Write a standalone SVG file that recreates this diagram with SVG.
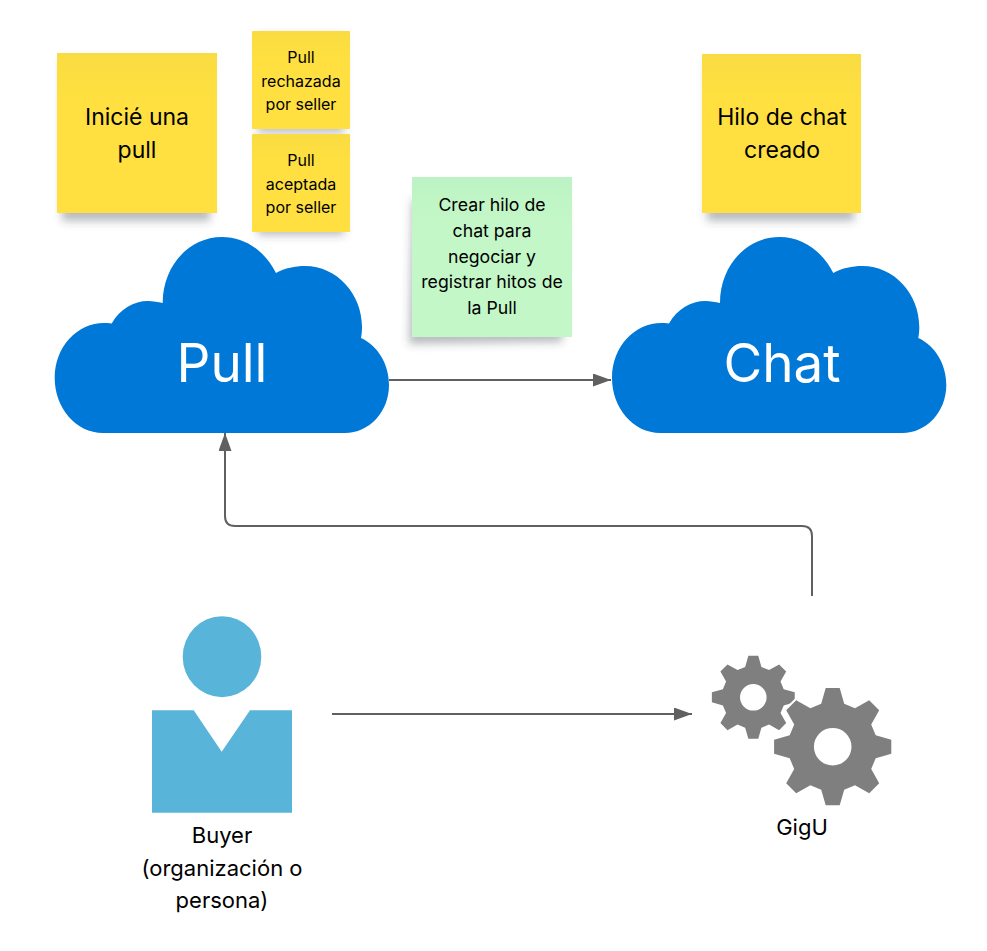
<svg xmlns="http://www.w3.org/2000/svg" width="987" height="951" viewBox="0 0 987 951">
<style>
text{font-family:Inter,"Noto Sans","Liberation Sans",sans-serif;text-anchor:middle;fill:#000}
.c{fill:#0078d7}
.ct{font-size:53px;fill:#fff}
.y{fill:url(#gy)}
.g{fill:url(#gg)}
.s{fill:#3a4250;fill-opacity:.36;filter:url(#b)}
.t1{font-size:23px}
.t2{font-size:16px}
.t3{font-size:17.7px}
.t4{font-size:22px}
.p{fill:#59b4d9}
.cn{fill:none;stroke:#606060;stroke-width:2}
</style>
<defs>
<linearGradient id="gy" x1="0" y1="0" x2="0" y2="1"><stop offset="0" stop-color="#f9dc42"/><stop offset=".3" stop-color="#ffe040"/></linearGradient>
<linearGradient id="gg" x1="0" y1="0" x2="0" y2="1"><stop offset="0" stop-color="#bdf3c4"/><stop offset=".3" stop-color="#c3f7c8"/></linearGradient>
<filter id="b" x="-20%" y="-20%" width="140%" height="140%"><feGaussianBlur stdDeviation="4"/></filter>
<marker id="a" markerUnits="userSpaceOnUse" markerWidth="19" markerHeight="14" refX="18" refY="6.5" orient="auto"><path d="M0 0L18 6.5L0 13Z" fill="#606060"/></marker>
<path id="cloud" d="M103 433C76 433 54.7 408 54.7 378C54.7 346 78 323 104 323C106 323 109 323 111.7 323.5C120 309 134 301 148 301C153 301 158 302 162.7 303C162.7 266 189 237 222 237C245 237 265 251 276 273C285 268 295 266 305 266C337 266 362 294 362 327C362 331 361.7 334 361 338C378 346 389 364 389 385C389 412 369 433 345 433Z"/>
<path id="gear" fill-rule="evenodd" d="M-7 -58.6L7 -58.6L11.5 -43L22.3 -38.5L36.5 -46.5L46.5 -36.5L38.5 -22.3L43 -11.5L58.6 -7L58.6 7L43 11.5L38.5 22.3L46.5 36.5L36.5 46.5L22.3 38.5L11.5 43L7 58.6L-7 58.6L-11.5 43L-22.3 38.5L-36.5 46.5L-46.5 36.5L-38.5 22.3L-43 11.5L-58.6 7L-58.6 -7L-43 -11.5L-38.5 -22.3L-46.5 -36.5L-36.5 -46.5L-22.3 -38.5L-11.5 -43ZM18.8 0A18.8 18.8 0 1 0 -18.8 0A18.8 18.8 0 1 0 18.8 0Z"/>
</defs>
<rect width="987" height="951" fill="#fff"/>
<g id="connectors">
<path class="cn" marker-end="url(#a)" d="M389 380H611"/>
<path class="cn" marker-end="url(#a)" d="M812 596V536Q812 526 802 526H235Q225 526 225 516V433"/>
<path class="cn" marker-end="url(#a)" d="M332 714H692"/>
</g>
<g id="note-inicie">
<rect class="s" x="62" y="60" width="148" height="161"/>
<rect class="y" x="57" y="53" width="160" height="160"/>
<text class="t1" x="137" y="125">Inicié una</text><text class="t1" x="137" y="158">pull</text>
</g>
<g id="note-rechazada">
<rect class="s" x="258" y="36" width="86" height="96"/>
<rect class="y" x="252" y="31" width="98" height="98" rx="1"/>
<text class="t2" x="301" y="62.7">Pull</text><text class="t2" x="301" y="86.5">rechazada</text><text class="t2" x="301" y="110">por seller</text>
</g>
<g id="note-aceptada">
<rect class="s" x="258" y="139" width="86" height="96"/>
<rect class="y" x="252" y="134" width="98" height="98" rx="1"/>
<text class="t2" x="301" y="165.7">Pull</text><text class="t2" x="301" y="189.5">aceptada</text><text class="t2" x="301" y="213">por seller</text>
</g>
<g id="note-crear">
<path class="s" d="M412 200L566 200L562 342L409 344Z"/>
<rect class="g" x="412" y="177" width="160" height="160"/>
<text class="t3" x="492" y="211">Crear hilo de</text><text class="t3" x="492" y="237">chat para</text><text class="t3" x="492" y="262.5">negociar y</text><text class="t3" x="492" y="288">registrar hitos de</text><text class="t3" x="492" y="314">la Pull</text>
</g>
<g id="note-hilo">
<rect class="s" x="707" y="61" width="147" height="160"/>
<rect class="y" x="702" y="54" width="159" height="159"/>
<text class="t1" x="782" y="125">Hilo de chat</text><text class="t1" x="782" y="158">creado</text>
</g>
<g id="pull"><use href="#cloud" class="c"/><text class="ct" x="222" y="382">Pull</text></g>
<g id="chat"><use href="#cloud" class="c" x="557.3"/><text class="ct" x="782" y="382">Chat</text></g>
<g id="buyer">
<ellipse class="p" cx="222" cy="656.7" rx="39.3" ry="40.5"/>
<path class="p" d="M152 710.3H193.7L221.7 751.7L250 710.3H292V812.7H152Z"/>
<text class="t4" x="222" y="843">Buyer</text><text class="t4" x="222" y="876">(organización o</text><text class="t4" x="222" y="908">persona)</text>
</g>
<g id="gigu">
<use href="#gear" transform="translate(753.3 697.3) scale(.707)" fill="#7f7f7f"/>
<use href="#gear" transform="translate(832.7 746.7)" fill="#7f7f7f" stroke="#fff" stroke-width="4" paint-order="stroke"/>
<text class="t4" x="802" y="835">GigU</text>
</g>
</svg>
